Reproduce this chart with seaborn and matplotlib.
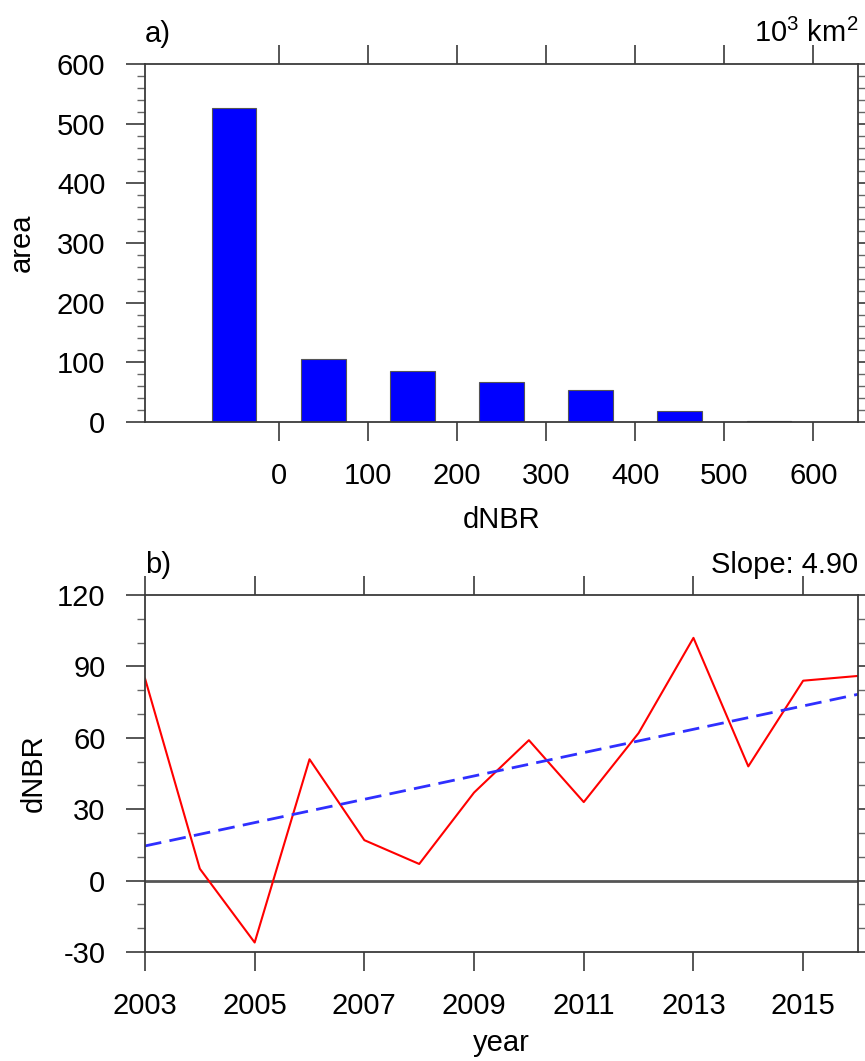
import seaborn as sns
import matplotlib.pyplot as plt
import numpy as np
from matplotlib.ticker import MultipleLocator

# panel a: burned area per dNBR bin
bin_centers = [-50, 50, 150, 250, 350, 450, 550]
area = [527, 105, 85, 67, 54, 18, 2]
dnbr_ticks = [0, 100, 200, 300, 400, 500, 600]

# panel b: yearly mean dNBR
years = list(range(2003, 2017))
dnbr = [85, 5, -26, 51, 17, 7, 37, 59, 33, 62, 102, 48, 84, 86]
year_ticks = list(range(2003, 2017, 2))

sns.set_style('ticks')
plt.rcParams['font.family'] = ['Liberation Sans', 'DejaVu Sans']
plt.rcParams['text.color'] = 'black'
plt.rcParams['axes.labelcolor'] = 'black'
plt.rcParams['xtick.labelcolor'] = 'black'
plt.rcParams['ytick.labelcolor'] = 'black'
plt.rcParams['axes.unicode_minus'] = False

FS = 21

fig = plt.figure(figsize=(8.65, 10.61), dpi=100)
ax1 = fig.add_axes([0.1676, 0.6023, 0.8243, 0.3374])
ax2 = fig.add_axes([0.1676, 0.1027, 0.8243, 0.3365])

spine_col = '#3a3a3a'


def style_axes(ax):
    for s in ax.spines.values():
        s.set_color(spine_col)
        s.set_linewidth(1.3)
    ax.tick_params(which='major', direction='out', length=13.5, width=1.2,
                   color=spine_col, labelsize=FS, pad=15,
                   top=True, right=True)
    ax.tick_params(which='minor', direction='out', length=5.5, width=1.0,
                   color='#666666', left=True, right=True)
    ax.tick_params(axis='x', which='minor', bottom=False, top=False)


# --- a) histogram
sns.barplot(x=bin_centers, y=area, native_scale=True, width=0.5,
            color='#0000ff', saturation=1, edgecolor='#555555',
            linewidth=0.8, ax=ax1)
ax1.set_xlim(-150, 650)
ax1.set_ylim(0, 600)
ax1.set_xticks(dnbr_ticks)
ax1.set_xticklabels([str(t) for t in dnbr_ticks])
ax1.yaxis.set_major_locator(MultipleLocator(100))
ax1.yaxis.set_minor_locator(MultipleLocator(20))
style_axes(ax1)
ax1.set_xlabel('dNBR', fontsize=FS, va='top')
ax1.xaxis.set_label_coords(0.5, -0.235)
ax1.set_ylabel('area', fontsize=FS)
ax1.yaxis.set_label_coords(-0.153, 0.5)
ax1.set_title('a)', loc='left', fontsize=FS, pad=16)
ax1.set_title(r'$\mathregular{10^3}$ km$\mathregular{^2}$', loc='right',
              fontsize=FS, pad=16)

# --- b) time series with trend
coef = np.polyfit(years, dnbr, 1)
trend = np.polyval(coef, years)
ax2.axhline(0, color='#555555', lw=2, zorder=1)
sns.lineplot(x=years, y=dnbr, color='#ff0000', lw=1.5, ax=ax2)
sns.lineplot(x=years, y=trend, color='#2f2fff', lw=2,
             linestyle=(0, (6, 3)), ax=ax2)
ax2.set_xlim(2003, 2016)
ax2.set_ylim(-30, 120)
ax2.set_xticks(year_ticks)
ax2.yaxis.set_major_locator(MultipleLocator(30))
ax2.yaxis.set_minor_locator(MultipleLocator(10))
style_axes(ax2)
ax2.set_xlabel('year', fontsize=FS, va='top')
ax2.xaxis.set_label_coords(0.5, -0.215)
ax2.set_ylabel('dNBR', fontsize=FS)
ax2.yaxis.set_label_coords(-0.137, 0.5)
ax2.set_title('b)', loc='left', fontsize=FS, pad=16)
ax2.set_title('Slope: %.2f' % coef[0], loc='right', fontsize=FS, pad=16)

fig.savefig('out.png', dpi=100)
